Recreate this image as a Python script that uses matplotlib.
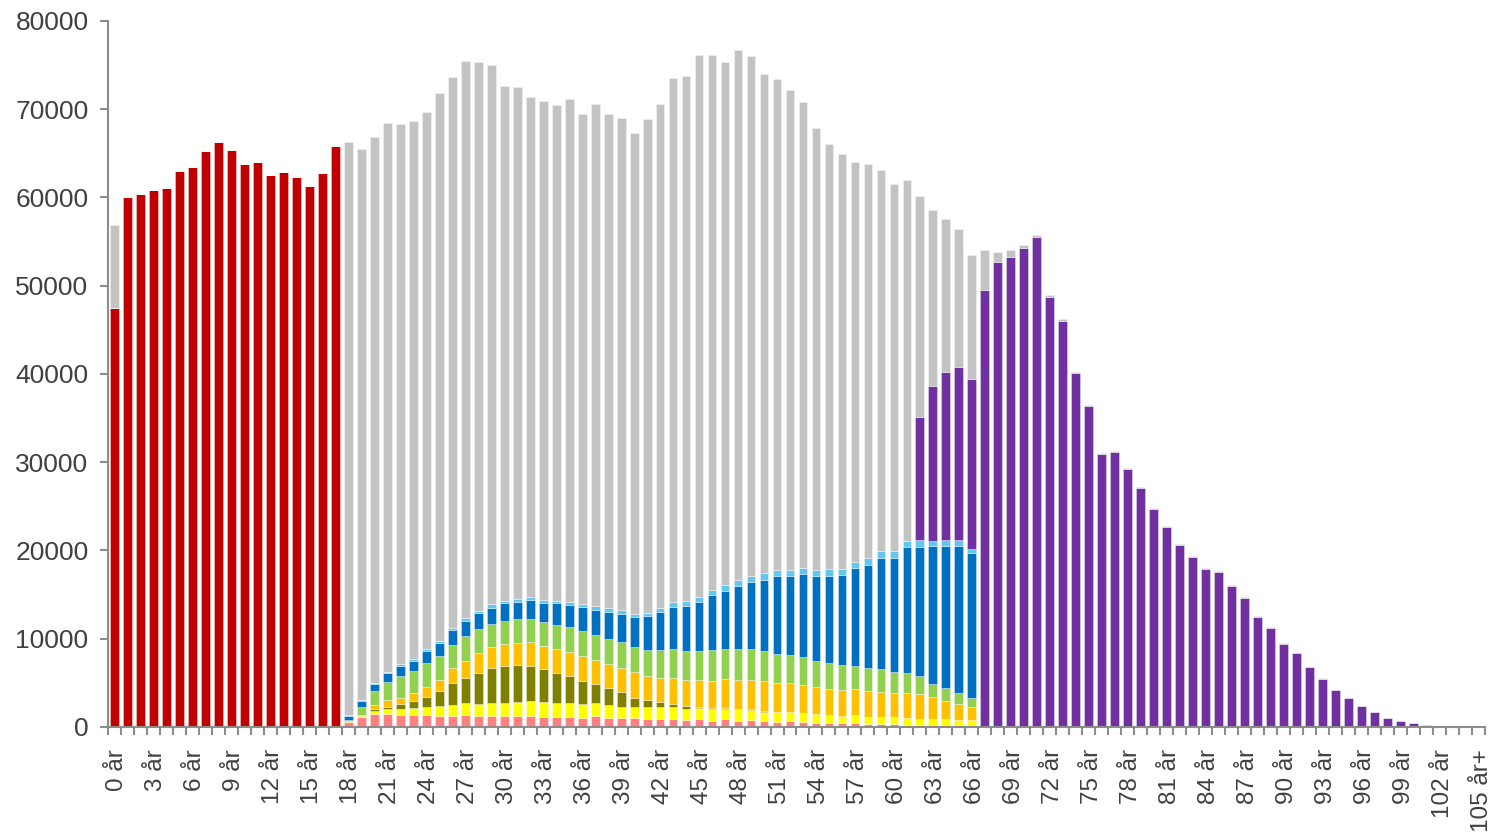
import numpy as np
import matplotlib.pyplot as plt
from matplotlib.transforms import ScaledTranslation

plt.rcParams['font.family'] = ['Liberation Sans', 'DejaVu Sans']

# ages 0..105
ages = list(range(106))
labels = [f"{a} år" for a in range(0, 103, 3)] + ["105 år+"]

# children 0-17 (red)
children = [47440, 60010, 60430, 60840, 61110, 62960, 63450, 65300, 66280,
            65340, 63750, 64010, 62510, 62850, 62320, 61300, 62800, 65860]

# top of each bar (whole population per age)
total = [56880] + children[1:] + [
    66320, 65450, 66890, 68470, 68320, 68700, 69680, 71830, 73680, 75460,
    75310, 74970, 72660, 72510, 71410, 70920, 70510, 71110, 69490, 70550,
    69490, 69030, 67260, 68890, 70620, 73530, 73790, 76140, 76140, 75310,
    76740, 76020, 73950, 73380, 72170, 70810, 67870, 66050, 64890, 63980,
    63830, 63110, 61520, 61970, 60160, 58580, 57560, 56420, 53480, 54040,
    53820, 54040, 54570, 55700,
    48910, 46190, 40260, 36450, 31000, 31260, 29330, 27220, 24760, 22800,
    20760, 19330, 18000, 17700, 16110, 14750, 12560, 11320, 9520, 8420,
    6820, 5530, 4230, 3280, 2410, 1720, 1000, 655, 425, 265,
    105, 52, 26, 11]

# working-age groups, ages 18..66
pink_w = [600, 1130, 1470, 1510, 1360, 1400, 1360, 1290, 1250, 1320,
          1250, 1250, 1210, 1250, 1290, 1170, 1130, 1130, 1060, 1290,
          1060, 1020, 980, 910, 950, 950, 830, 910, 720, 910,
          720, 760, 680, 600, 640, 530, 450, 450, 420, 420,
          380, 340, 300, 260, 230, 150, 80, 50, 30]
yellow_w = [0, 80, 380, 530, 720, 760, 950, 1100, 1250, 1400,
            1360, 1510, 1510, 1590, 1660, 1660, 1630, 1590, 1510, 1440,
            1400, 1290, 1250, 1400, 1290, 1360, 1250, 1210, 1290, 1170,
            1290, 1170, 1060, 1100, 1100, 1020, 1020, 950, 870, 950,
            790, 830, 790, 760, 680, 760, 790, 790, 790]
olive_w = [0, 30, 230, 260, 530, 830, 1130, 1630, 2530, 2870,
           3480, 3890, 4200, 4230, 3970, 3740, 3400, 3100, 2610, 2120,
           2000, 1650, 1000, 760, 570, 340, 340, 190, 110, 100,
           60, 50, 20, 0, 0, 0, 0, 0, 0, 0,
           0, 0, 0, 0, 0, 0, 0, 0, 0]
orange_w = [50, 170, 450, 720, 680, 830, 1100, 1250, 1630, 1930,
            2270, 2380, 2460, 2490, 2720, 2610, 2720, 2680, 2910, 2760,
            2720, 2760, 3000, 2720, 2760, 2910, 2910, 3020, 3140, 3290,
            3290, 3360, 3440, 3330, 3210, 3180, 3100, 2950, 2870, 2910,
            2910, 2830, 2800, 2800, 2800, 2460, 2120, 1810, 1400]
green_w = [180, 830, 1590, 2080, 2530, 2530, 2680, 2720, 2650, 2800,
           2720, 2680, 2650, 2650, 2650, 2760, 2680, 2830, 2800, 2830,
           2830, 2950, 2830, 2950, 3140, 3290, 3290, 3290, 3480, 3400,
           3520, 3520, 3360, 3290, 3180, 3210, 2950, 2910, 2830, 2680,
           2610, 2570, 2310, 2270, 2040, 1550, 1440, 1170, 1100]
blue_w = [450, 750, 750, 980, 1100, 1130, 1440, 1510, 1630, 1700,
          1810, 1810, 1970, 1970, 2120, 2150, 2460, 2530, 2650, 2830,
          3060, 3180, 3360, 3780, 4270, 4800, 5140, 5590, 6160, 6580,
          7110, 7560, 8050, 8730, 8920, 9410, 9530, 9900, 10280, 11000,
          11680, 12550, 12930, 14290, 14630, 15540, 16100, 16670, 16400]
lightblue_w = [60, 60, 150, 150, 190, 230, 230, 260, 300, 340,
               300, 380, 300, 340, 340, 340, 260, 300, 340, 420,
               420, 420, 420, 450, 450, 490, 570, 570, 570, 640,
               640, 640, 790, 760, 790, 680, 760, 760, 680, 760,
               720, 830, 760, 720, 830, 640, 680, 640, 490]

# pensioners, ages 62..105
pension = [13970, 17560, 19060, 19710, 19260,
           49510, 52720, 53250, 54230, 55480, 48760, 46030, 40140, 36370, 30900,
           31160, 29230, 27120, 24660, 22700, 20660, 19230, 17900, 17600, 16010,
           14650, 12460, 11220, 9440, 8350, 6760, 5480, 4190, 3250, 2380,
           1700, 980, 640, 415, 260, 100, 50, 25, 10]

red = children + [0] * 88
work = lambda s: [0] * 18 + s + [0] * 39
purple = [0] * 62 + pension

series = [
    (red, "#C00000"),
    (work(pink_w), "#FF8080"),
    (work(yellow_w), "#FFFF00"),
    (work(olive_w), "#808000"),
    (work(orange_w), "#FFC000"),
    (work(green_w), "#92D050"),
    (work(blue_w), "#0070C0"),
    (work(lightblue_w), "#63C6EE"),
    (purple, "#7030A0"),
]

fig = plt.figure(figsize=(14.91, 8.33), dpi=100)
ax = fig.add_axes([0.0724, 0.1273, 0.9236, 0.8475])

x = np.array(ages)
bottom = np.zeros(len(ages))
edge = (1, 1, 1, 0.35)
for vals, col in series:
    v = np.array(vals, dtype=float)
    ax.bar(x, v, bottom=bottom, width=0.68, color=col, edgecolor=edge, linewidth=0.7)
    bottom += v

grey = np.clip(np.array(total, dtype=float) - bottom, 0, None)
ax.bar(x, grey, bottom=bottom, width=0.68, color="#C3C3C3", edgecolor=edge, linewidth=0.7)

axis_col = "#8C8C8C"
text_col = "#404040"
ax.set_xlim(-0.5, 105.5)
ax.set_ylim(0, 80000)
ax.set_yticks(range(0, 80001, 10000))
ax.set_xticks(range(0, 106, 3))
ax.set_xticklabels(labels, rotation=90, fontsize=17.5, color=text_col)
ax.set_xticks(np.arange(-0.5, 106, 1), minor=True)
ax.tick_params(axis="x", which="major", length=0, pad=16)
ax.tick_params(axis="x", which="minor", length=6, width=1.5, color=axis_col)
ax.tick_params(axis="y", length=6, width=1.5, color=axis_col, labelsize=19,
               labelcolor=text_col, pad=8)

# nudge rotated labels so the glyphs sit centred under the bars
shift = ScaledTranslation(3 / 100, 0, fig.dpi_scale_trans)
for lbl in ax.get_xticklabels():
    lbl.set_transform(lbl.get_transform() + shift)

for s in ["top", "right"]:
    ax.spines[s].set_visible(False)
for s in ["left", "bottom"]:
    ax.spines[s].set_color(axis_col)
    ax.spines[s].set_linewidth(1.5)

fig.savefig("out.png", dpi=100)
